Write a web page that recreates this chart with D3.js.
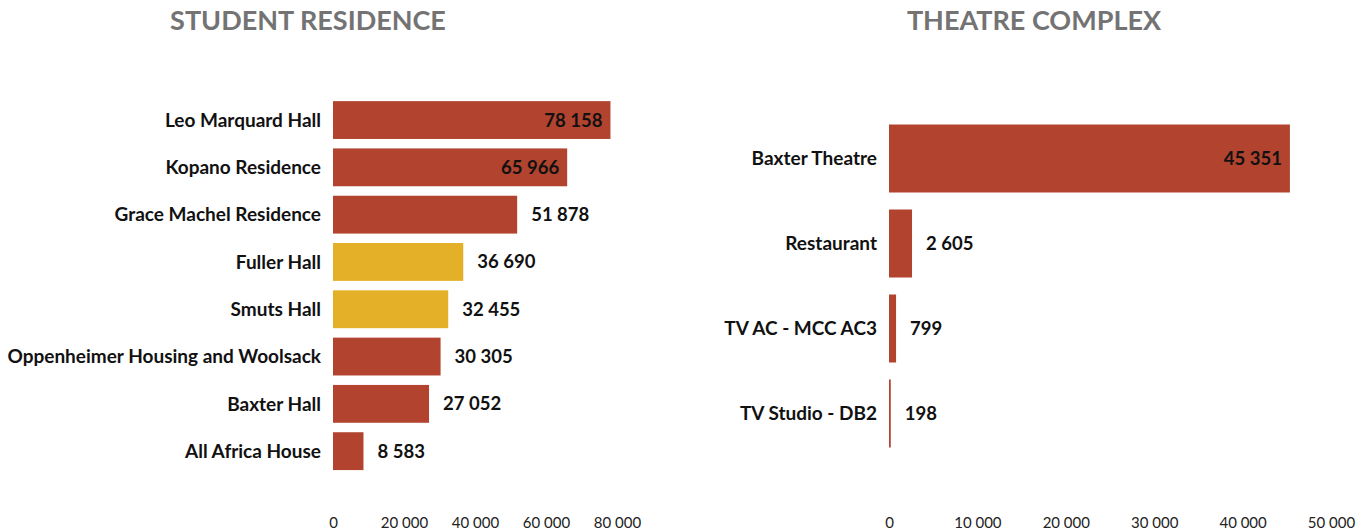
<!DOCTYPE html>
<html>
<head>
<meta charset="utf-8">
<script src="https://cdn.jsdelivr.net/npm/d3@7"></script>
<style>
  body { margin: 0; background: #fff; font-family: Lato, "Open Sans", sans-serif; }
  .title { font-weight: 700; fill: #737373; font-size: 27px; }
  .cat { font-weight: 700; fill: #111; font-size: 19px; }
  .val { font-weight: 700; fill: #111; font-size: 18.5px; }
  .tick text { font-size: 15px; fill: #222; font-family: Lato, sans-serif; }
</style>
</head>
<body>
<div id="chart"></div>
<script>
var width = 1372;
var height = 532;

// student residence data
var resNames = ["Leo Marquard Hall", "Kopano Residence", "Grace Machel Residence", "Fuller Hall",
  "Smuts Hall", "Oppenheimer Housing and Woolsack", "Baxter Hall", "All Africa House"];
var resValues = [78158, 65966, 51878, 36690, 32455, 30305, 27052, 8583];
var resHighlight = ["Fuller Hall", "Smuts Hall"];
var resTicks = [0, 20000, 40000, 60000, 80000];

// theatre complex data
var theatreNames = ["Baxter Theatre", "Restaurant", "TV AC - MCC AC3", "TV Studio - DB2"];
var theatreValues = [45351, 2605, 799, 198];
var theatreTicks = [0, 10000, 20000, 30000, 40000, 50000];

var red = "#b1432f";
var gold = "#e4b028";

var fmt = function(v) { return d3.format(",")(v).replace(/,/g, " "); };

var svg = d3.select("#chart").append("svg")
  .attr("width", width)
  .attr("height", height);

// one panel drawing function for both charts
function drawPanel(opts) {
  var g = svg.append("g");

  var x = d3.scaleLinear().domain([0, opts.max]).range([opts.x0, opts.x1]);
  var y = d3.scaleBand()
    .domain(opts.names)
    .range([opts.y0, opts.y1])
    .paddingInner(0.2)
    .paddingOuter(0.1);

  var rows = opts.names.map(function(n, i) { return { name: n, value: opts.values[i] }; });

  g.append("text")
    .attr("class", "title")
    .attr("x", opts.titleX)
    .attr("y", 30)
    .attr("text-anchor", "middle")
    .text(opts.title);

  g.selectAll("rect.bar")
    .data(rows)
    .enter()
    .append("rect")
    .attr("class", "bar")
    .attr("x", x(0))
    .attr("y", function(d) { return y(d.name); })
    .attr("width", function(d) { return Math.max(1.5, x(d.value) - x(0)); })
    .attr("height", y.bandwidth())
    .attr("fill", function(d) { return opts.highlight.includes(d.name) ? gold : red; });

  // category labels
  g.selectAll("text.cat")
    .data(rows)
    .enter()
    .append("text")
    .attr("class", "cat")
    .attr("x", x(0) - 12)
    .attr("y", function(d) { return y(d.name) + y.bandwidth() / 2; })
    .attr("dy", "0.35em")
    .attr("text-anchor", "end")
    .text(function(d) { return d.name; });

  // value labels, inside the bar when it is long enough
  g.selectAll("text.val")
    .data(rows)
    .enter()
    .append("text")
    .attr("class", "val")
    .attr("x", function(d) {
      return d.value >= opts.inside ? x(d.value) - 8 : x(d.value) + 14;
    })
    .attr("y", function(d) { return y(d.name) + y.bandwidth() / 2; })
    .attr("dy", "0.35em")
    .attr("text-anchor", function(d) { return d.value >= opts.inside ? "end" : "start"; })
    .text(function(d) { return fmt(d.value); });

  var axis = g.append("g")
    .attr("transform", "translate(0," + 510 + ")")
    .call(d3.axisBottom(x).tickValues(opts.ticks).tickSize(0).tickPadding(7).tickFormat(fmt));
  axis.select(".domain").remove();
}

drawPanel({
  title: "STUDENT RESIDENCE", titleX: 308,
  names: resNames, values: resValues, highlight: resHighlight, ticks: resTicks,
  max: 80000, x0: 333, x1: 617, y0: 96.4, y1: 474.8, inside: 60000
});

drawPanel({
  title: "THEATRE COMPLEX", titleX: 1034,
  names: theatreNames, values: theatreValues, highlight: [], ticks: theatreTicks,
  max: 50000, x0: 889, x1: 1331, y0: 116, y1: 456, inside: 20000
});
</script>
</body>
</html>
